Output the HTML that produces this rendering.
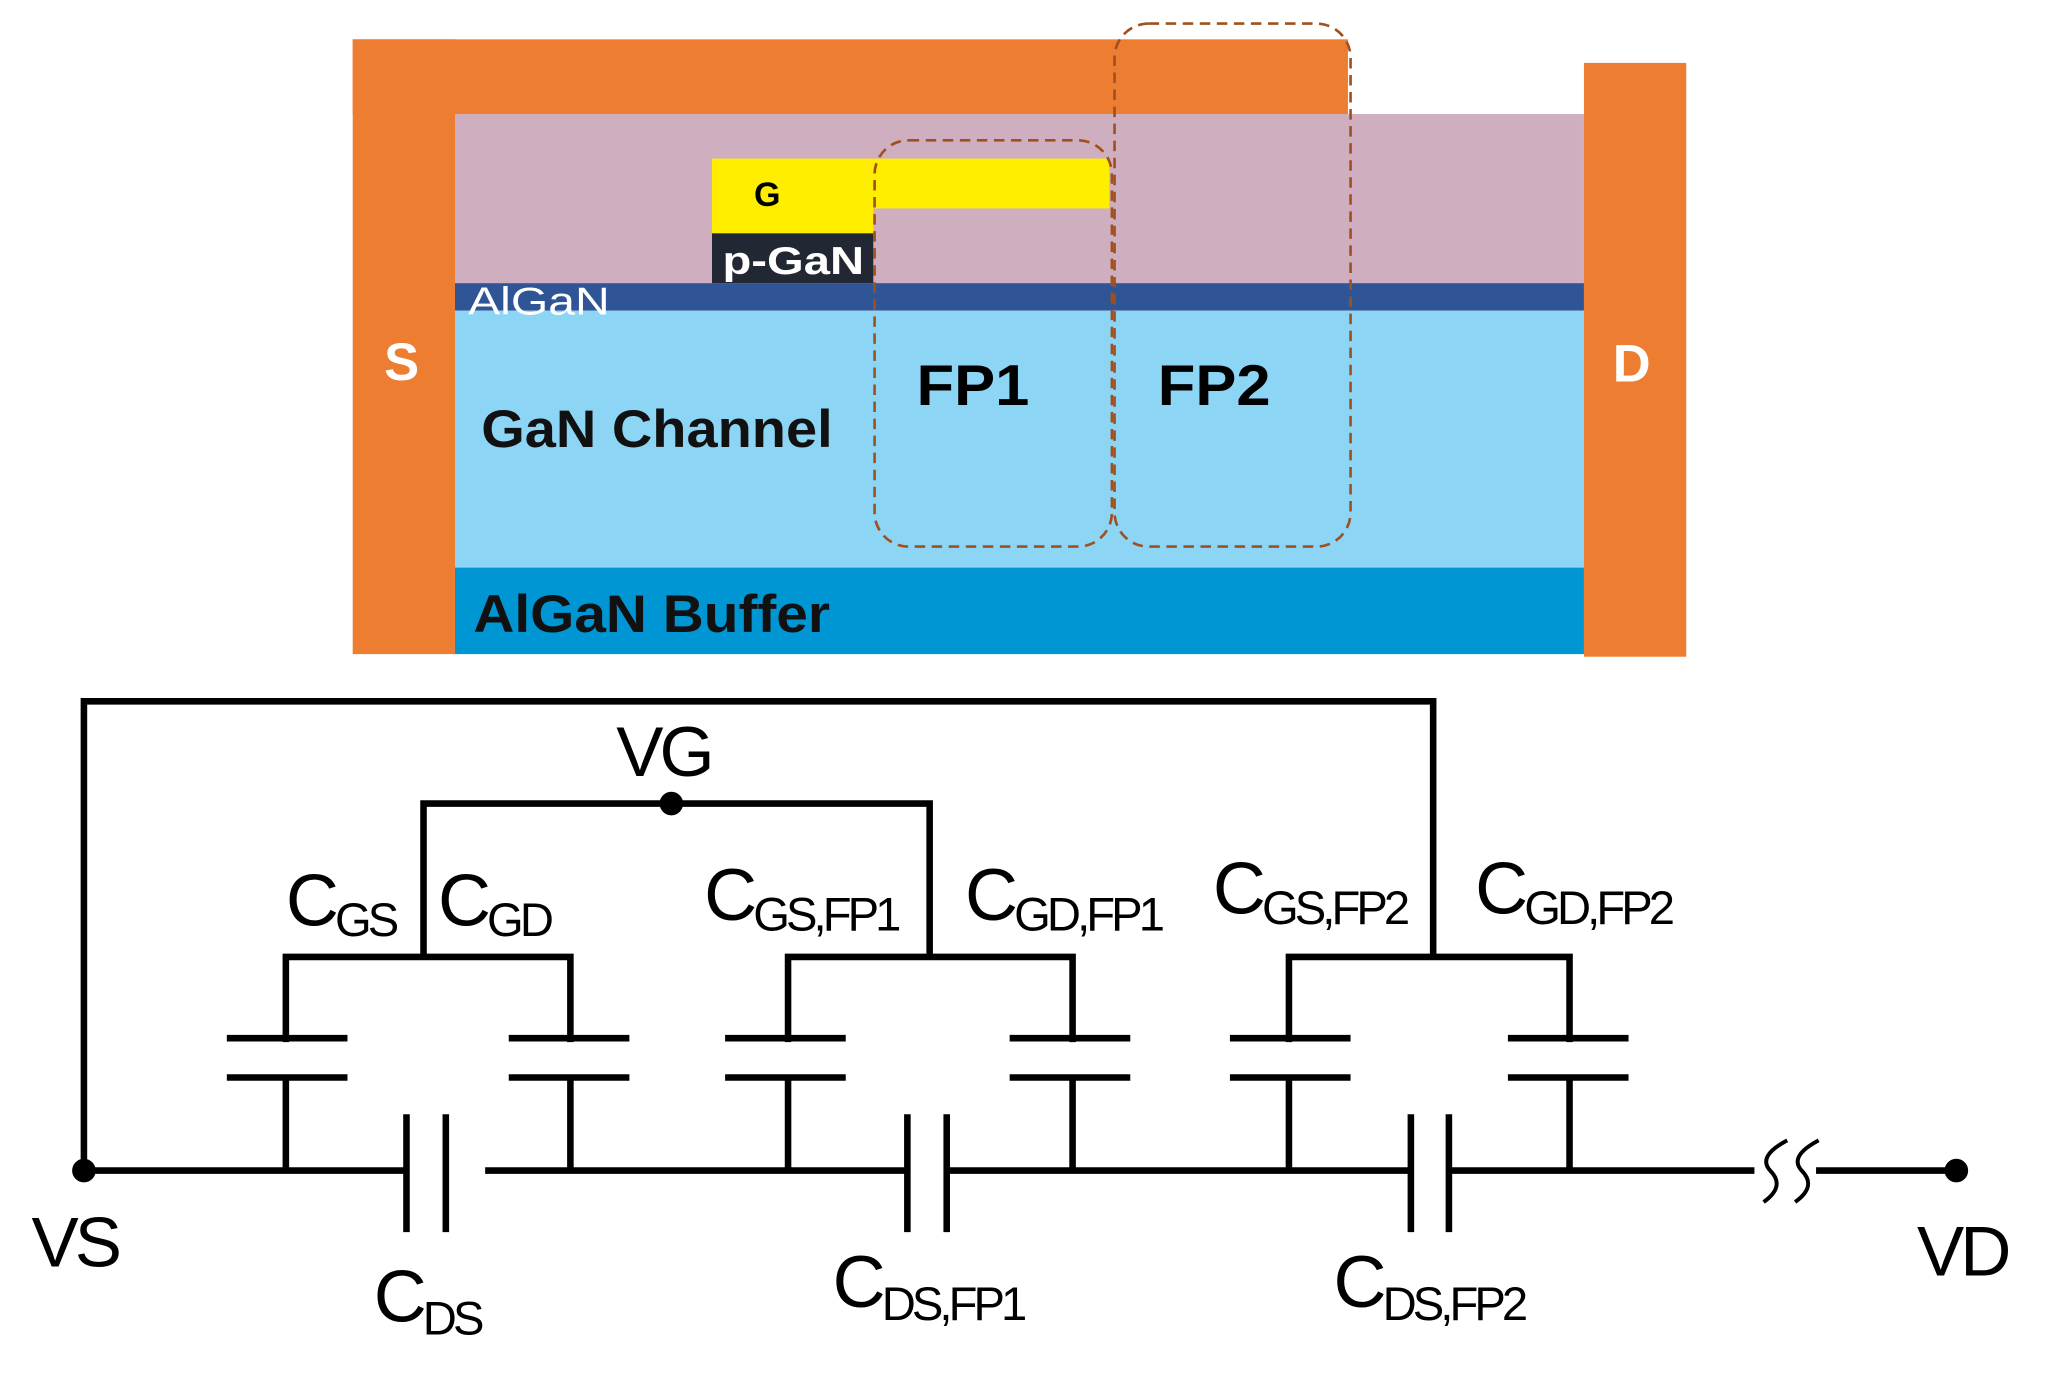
<!DOCTYPE html>
<html><head><meta charset="utf-8"><style>html,body{margin:0;padding:0;background:#fff}svg{display:block}</style></head><body>
<svg width="2056" height="1379" viewBox="0 0 1568 1052" preserveAspectRatio="none" xmlns="http://www.w3.org/2000/svg">
<rect x="0" y="0" width="1568" height="1052" fill="#fff"/>
<!-- device -->
<rect x="347" y="87" width="861" height="129" fill="#cfafbf"/>
<rect x="347" y="216" width="861" height="21" fill="#2f5597"/>
<rect x="347" y="237" width="861" height="196" fill="#8dd5f5"/>
<rect x="347" y="433" width="861" height="66" fill="#0096d4"/>
<rect x="269" y="30" width="78" height="469" fill="#ed7d31"/>
<rect x="269" y="30" width="759" height="57" fill="#ed7d31"/>
<rect x="1208" y="48" width="78" height="453" fill="#ed7d31"/>
<rect x="543" y="121" width="123" height="57" fill="#ffee00"/>
<rect x="666" y="121" width="180" height="38" fill="#ffee00"/>
<rect x="543" y="178" width="123" height="38" fill="#222833"/>
<rect x="667" y="107" width="181" height="310" rx="26" fill="none" stroke="#a0501e" stroke-width="2" stroke-dasharray="8,5"/>
<rect x="850" y="18" width="180" height="399" rx="26" fill="none" stroke="#a0501e" stroke-width="2" stroke-dasharray="8,5"/>
<g font-family="Liberation Sans, sans-serif" font-weight="bold">
<text x="575" y="157" font-size="26" fill="#000">G</text>
<text x="551" y="209" font-size="30" fill="#fff" textLength="108" lengthAdjust="spacingAndGlyphs">p-GaN</text>
<text x="357" y="240" font-size="30" fill="#fff" font-weight="normal" textLength="108" lengthAdjust="spacingAndGlyphs">AlGaN</text>
<text x="293" y="290" font-size="40" fill="#fff">S</text>
<text x="1230" y="291" font-size="40" fill="#fff">D</text>
<text x="367" y="341" font-size="40" fill="#111" textLength="268" lengthAdjust="spacingAndGlyphs">GaN Channel</text>
<text x="699" y="309" font-size="44" fill="#000" textLength="86" lengthAdjust="spacingAndGlyphs">FP1</text>
<text x="883" y="309" font-size="44" fill="#000" textLength="86" lengthAdjust="spacingAndGlyphs">FP2</text>
<text x="361" y="482" font-size="40" fill="#111" textLength="272" lengthAdjust="spacingAndGlyphs">AlGaN Buffer</text>
</g>
<!-- circuit -->
<g stroke="#000" stroke-width="5" fill="none">
<polyline points="64,893 64,535 1093,535 1093,730"/>
<polyline points="323,730 323,613 709,613 709,730"/>
<polyline points="218,893 218,730 435,730 435,893"/>
<polyline points="601,893 601,730 818,730 818,893"/>
<polyline points="983,893 983,730 1197,730 1197,893"/>
<line x1="64" y1="893" x2="310" y2="893"/>
<line x1="370" y1="893" x2="692" y2="893"/>
<line x1="722" y1="893" x2="1076" y2="893"/>
<line x1="1105" y1="893" x2="1338" y2="893"/>
<line x1="1385" y1="893" x2="1492" y2="893"/>
<line x1="310" y1="850" x2="310" y2="940"/><line x1="340" y1="850" x2="340" y2="940"/>
<line x1="692" y1="850" x2="692" y2="940"/><line x1="722" y1="850" x2="722" y2="940"/>
<line x1="1076" y1="850" x2="1076" y2="940"/><line x1="1105" y1="850" x2="1105" y2="940"/>
</g>
<rect x="150" y="795" width="1120" height="25" fill="#fff"/>
<g stroke="#000" stroke-width="5">
<line x1="173" y1="792" x2="265" y2="792"/><line x1="173" y1="822" x2="265" y2="822"/>
<line x1="388" y1="792" x2="480" y2="792"/><line x1="388" y1="822" x2="480" y2="822"/>
<line x1="553" y1="792" x2="645" y2="792"/><line x1="553" y1="822" x2="645" y2="822"/>
<line x1="770" y1="792" x2="862" y2="792"/><line x1="770" y1="822" x2="862" y2="822"/>
<line x1="938" y1="792" x2="1030" y2="792"/><line x1="938" y1="822" x2="1030" y2="822"/>
<line x1="1150" y1="792" x2="1242" y2="792"/><line x1="1150" y1="822" x2="1242" y2="822"/>
</g>
<path d="M1363,870 Q1340,882 1350,893 Q1362,905 1345,917 M1387,870 Q1364,882 1374,893 Q1386,905 1369,917" stroke="#000" stroke-width="3" fill="none"/>
<circle cx="64" cy="893" r="9" fill="#000"/>
<circle cx="512" cy="613" r="9" fill="#000"/>
<circle cx="1492" cy="893" r="9" fill="#000"/>
<g font-family="Liberation Sans, sans-serif" fill="#000" letter-spacing="-3">
<text x="24" y="966" font-size="54">VS</text>
<text x="1462" y="973" font-size="54">VD</text>
<text x="470" y="592" font-size="54">VG</text>
<text x="218" y="706" font-size="56">C<tspan font-size="36" dy="8">GS</tspan></text>
<text x="334" y="706" font-size="56">C<tspan font-size="36" dy="8">GD</tspan></text>
<text x="537" y="702" font-size="56">C<tspan font-size="36" dy="8">GS,FP1</tspan></text>
<text x="736" y="702" font-size="56">C<tspan font-size="36" dy="8">GD,FP1</tspan></text>
<text x="925" y="697" font-size="56">C<tspan font-size="36" dy="8">GS,FP2</tspan></text>
<text x="1125" y="697" font-size="56">C<tspan font-size="36" dy="8">GD,FP2</tspan></text>
<text x="285" y="1008" font-size="56">C<tspan font-size="36" dy="10">DS</tspan></text>
<text x="635" y="997" font-size="56">C<tspan font-size="36" dy="10">DS,FP1</tspan></text>
<text x="1017" y="997" font-size="56">C<tspan font-size="36" dy="10">DS,FP2</tspan></text>
</g>
</svg>
</body></html>
